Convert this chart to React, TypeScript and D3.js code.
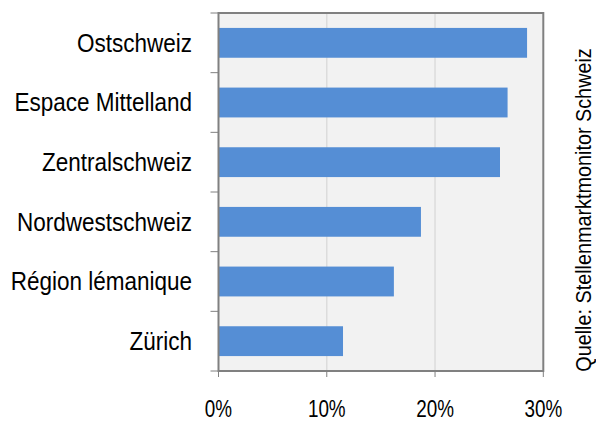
import React from "react";
import * as d3 from "d3";

const categories = ["Ostschweiz", "Espace Mittelland", "Zentralschweiz", "Nordwestschweiz", "Région lémanique", "Zürich"];
const values = [28.5, 26.7, 26.0, 18.7, 16.2, 11.5];
const xTicks = [0, 10, 20, 30];
const sourceText = "Quelle: Stellenmarktmonitor Schweiz";

export default function App() {
  const W = 596, H = 421;
  const left = 218.5, right = 543.3, top = 13, bottom = 371;
  const x = d3.scaleLinear().domain([0, 30]).range([left, right]);
  const y = d3.scaleBand<string>().domain(categories).range([top, bottom]).paddingInner(0.5).paddingOuter(0.25);
  const band = (bottom - top) / categories.length;
  const font = "Liberation Sans, Arial, sans-serif";
  return (
    <svg width={W} height={H} style={{ position: "absolute", left: 0, top: 0 }}>
      <rect x={left} y={top} width={right - left} height={bottom - top} fill="#F2F2F2" />
      {xTicks.slice(1, -1).map((t) => (
        <line key={t} x1={x(t)} x2={x(t)} y1={top} y2={bottom} stroke="#D9D9D9" strokeWidth={1.3} />
      ))}
      {categories.map((c, i) => (
        <rect key={c} x={x(0)} y={y(c)} width={x(values[i]) - x(0)} height={y.bandwidth()} fill="#558ED5" />
      ))}
      <rect x={left} y={top} width={right - left} height={bottom - top} fill="none" stroke="#808080" strokeWidth={2} />
      {d3.range(categories.length + 1).map((i) => (
        <line key={i} x1={left - 8} x2={left} y1={top + i * band} y2={top + i * band} stroke="#808080" strokeWidth={1} />
      ))}
      {xTicks.map((t) => (
        <line key={t} x1={x(t)} x2={x(t)} y1={bottom} y2={bottom + 6} stroke="#808080" strokeWidth={1} />
      ))}
      {categories.map((c) => (
        <text key={c} transform={`translate(192, ${(y(c) ?? 0) + y.bandwidth() / 2}) scale(0.9, 1)`} dy="0.35em" textAnchor="end" fontFamily={font} fontSize={25} fill="#000">
          {c}
        </text>
      ))}
      {xTicks.map((t) => (
        <text key={t} transform={`translate(${x(t)}, 416.5) scale(0.77, 1)`} textAnchor="middle" fontFamily={font} fontSize={24.5} fill="#000">
          {t}%
        </text>
      ))}
      <text transform={`translate(591, 210) rotate(-90) scale(0.88, 1)`} textAnchor="middle" fontFamily={font} fontSize={22.5} fill="#000">
        {sourceText}
      </text>
    </svg>
  );
}
